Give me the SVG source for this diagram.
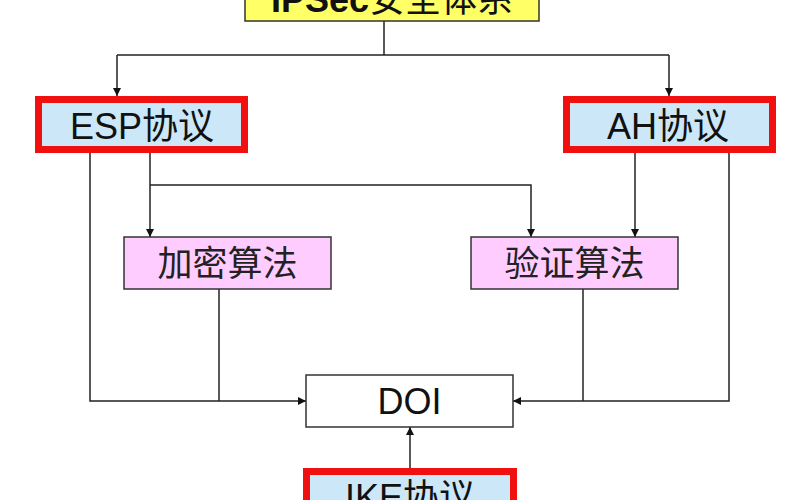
<svg xmlns="http://www.w3.org/2000/svg" width="800" height="500" viewBox="0 0 800 500">
<defs>
<style>
.lbl{font-family:"Liberation Sans","Noto Sans CJK SC",sans-serif;font-size:36px;fill:#111;text-anchor:middle}
.cjk{font-family:"Noto Sans CJK SC",sans-serif;font-size:35px;fill:#222;text-anchor:middle}
.red{fill:#CCE8F8;stroke:#F01010;stroke-width:7}
.alg{fill:#FFCCFF;stroke:#333;stroke-width:1.5}
.con{fill:none;stroke:#222;stroke-width:1.5}
</style>
<marker id="arr" viewBox="0 0 10 10" refX="10" refY="5" markerWidth="8" markerHeight="8" markerUnits="userSpaceOnUse" orient="auto">
<path d="M0,0 L10,5 L0,10 z" fill="#111"/>
</marker>
</defs>
<rect width="800" height="500" fill="#fff"/>
<g id="connectors">
<path class="con" d="M384,21 V55"/>
<path class="con" d="M117,55 H669"/>
<path class="con" d="M117,55 V96" marker-end="url(#arr)"/>
<path class="con" d="M669,55 V96" marker-end="url(#arr)"/>
<path class="con" d="M90,153 V401 H306" marker-end="url(#arr)"/>
<path class="con" d="M150,153 V237" marker-end="url(#arr)"/>
<path class="con" d="M150,185 H531 V237" marker-end="url(#arr)"/>
<path class="con" d="M635,153 V237" marker-end="url(#arr)"/>
<path class="con" d="M729,153 V401 H513" marker-end="url(#arr)"/>
<path class="con" d="M219,289 V401"/>
<path class="con" d="M583,289 V401"/>
<path class="con" d="M410,468 V427" marker-end="url(#arr)"/>
</g>
<g id="ipsec">
<rect x="245" y="-30" width="294" height="51" fill="#FFFF66" stroke="#333" stroke-width="1.5"/>
<text x="392" y="12" class="lbl" font-size="35"><tspan font-weight="bold">IPSec</tspan><tspan font-family="Noto Sans CJK SC, sans-serif">安全体系</tspan></text>
</g>
<g id="esp">
<rect class="red" x="38.5" y="99.5" width="206" height="50"/>
<text x="142" y="139" class="lbl">ESP<tspan font-family="Noto Sans CJK SC, sans-serif">协议</tspan></text>
</g>
<g id="ah">
<rect class="red" x="566.5" y="99.5" width="206" height="50"/>
<text x="668" y="139" class="lbl">AH<tspan font-family="Noto Sans CJK SC, sans-serif">协议</tspan></text>
</g>
<g id="encrypt">
<rect class="alg" x="124" y="237" width="207" height="52"/>
<text x="227.5" y="276" class="cjk">加密算法</text>
</g>
<g id="auth">
<rect class="alg" x="471" y="237" width="207" height="52"/>
<text x="574.5" y="276" class="cjk">验证算法</text>
</g>
<g id="doi">
<rect x="306" y="375" width="207" height="52" fill="#fff" stroke="#333" stroke-width="1.5"/>
<text x="409.5" y="414" class="lbl">DOI</text>
</g>
<g id="ike">
<rect class="red" x="306.5" y="471.5" width="207" height="50"/>
<text x="410" y="510" class="lbl">IKE<tspan font-family="Noto Sans CJK SC, sans-serif">协议</tspan></text>
</g>
</svg>
